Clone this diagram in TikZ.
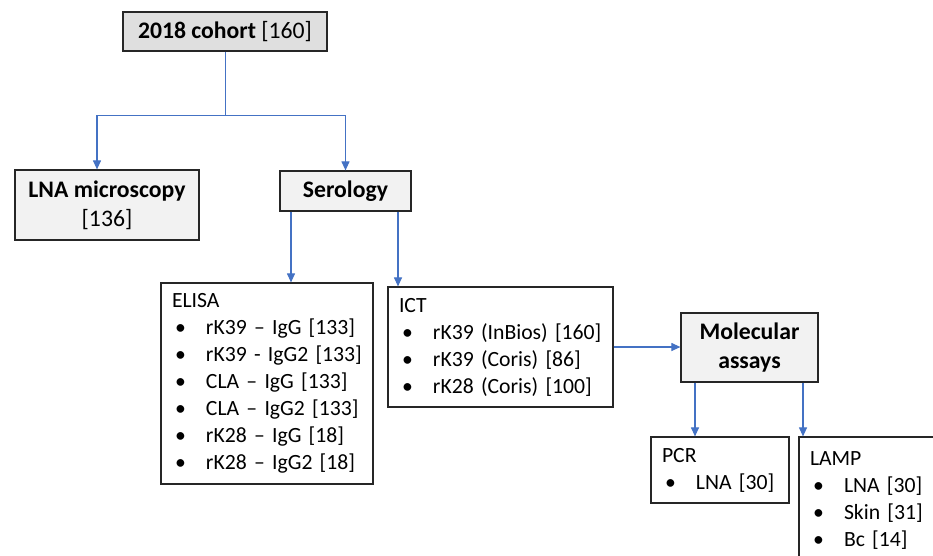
\documentclass[tikz,border=0pt]{standalone}
\usepackage{fontspec}
\setmainfont{Carlito}
\usetikzlibrary{arrows.meta}
\definecolor{linkblue}{HTML}{4472C4}
\newcommand{\blt}{\hspace*{3pt}\makebox[31pt][l]{•}}

\begin{document}
\begin{tikzpicture}[x=1pt, y=-1pt, node distance=160pt, every node/.style={font=\fontsize{21.7}{27}\selectfont}, >={Triangle[length=9pt,width=8pt]}]
    % styles
    \tikzstyle{head} = [rectangle, draw=black!85, line width=1.2pt, fill=gray!25, minimum width=204pt, minimum height=39pt, inner sep=0pt, font=\fontsize{23.7}{29}\selectfont]
    \tikzstyle{method} = [rectangle, draw=black!85, line width=1.2pt, fill=gray!10, align=center, inner sep=0pt, font=\fontsize{23.7}{29}\selectfont]
    \tikzstyle{list} = [rectangle, draw=black!85, line width=1.2pt, fill=white, align=left, inner xsep=11pt, inner ysep=0pt]
    \tikzstyle{arrow} = [draw=linkblue, line width=1.1pt, ->]

    \useasboundingbox (0,0) rectangle (933,555);
    \clip (0,0) rectangle (933,555);

    % nodes
    \node[head] (cohort) at (225,31.5) {\textbf{2018 cohort} [160]};

    \node[method, below of=cohort, xshift=-118pt, yshift=-13.5pt, minimum width=184pt, minimum height=70pt] (lna) {\textbf{LNA microscopy}\\{[136]}};
    \node[method, below of=cohort, xshift=120.5pt, yshift=0.5pt, minimum width=131pt, minimum height=40pt] (serology) {\textbf{Serology}};

    \node[list, below of=serology, xshift=-78.5pt, yshift=-32.5pt, text width=190pt, minimum height=201pt] (elisa) {ELISA\\
        \blt rK39 – IgG [133]\\
        \blt rK39 - IgG2 [133]\\
        \blt CLA – IgG [133]\\
        \blt CLA – IgG2 [133]\\
        \blt rK28 – IgG [18]\\
        \blt rK28 – IgG2 [18]};
    \node[list, below of=serology, xshift=155pt, yshift=4pt, text width=203pt, minimum height=120pt] (ict) {ICT\\
        \blt rK39 (InBios) [160]\\
        \blt rK39 (Coris) [86]\\
        \blt rK28 (Coris) [100]};

    \node[method, right of=ict, xshift=89pt, yshift=-0.5pt, minimum width=137pt, minimum height=69pt] (molecular) {\textbf{Molecular}\\\textbf{assays}};

    \node[list, below of=molecular, xshift=-29.5pt, yshift=37.5pt, text width=116pt, minimum height=66pt] (pcr) {PCR\\
        \blt LNA [30]};
    \node[list, below of=molecular, xshift=120pt, yshift=6.5pt, text width=119pt, minimum height=128pt] (lamp) {LAMP\\
        \blt LNA [30]\\
        \blt Skin [31]\\
        \blt Bc [14]};

    % arrows
    \coordinate (split) at ([yshift=-64pt]cohort.south);
    \draw[draw=linkblue, line width=1pt] (cohort.south) -- (split);
    \draw[arrow] (split) -| ([xshift=-10pt]lna.north);
    \draw[arrow] (split) -| (serology.north);

    \draw[arrow] ([xshift=-54.5pt]serology.south) -- ([xshift=-54.5pt]serology.south |- elisa.north);
    \draw[arrow] ([xshift=52.5pt]serology.south) -- ([xshift=52.5pt]serology.south |- ict.north);

    \draw[arrow] (ict.east) -- (ict.east -| molecular.west);

    \draw[arrow] ([xshift=-54.5pt]molecular.south) -- ([xshift=-54.5pt]molecular.south |- pcr.north);
    \draw[arrow] ([xshift=53.5pt]molecular.south) -- ([xshift=53.5pt]molecular.south |- lamp.north);
\end{tikzpicture}
\end{document}
